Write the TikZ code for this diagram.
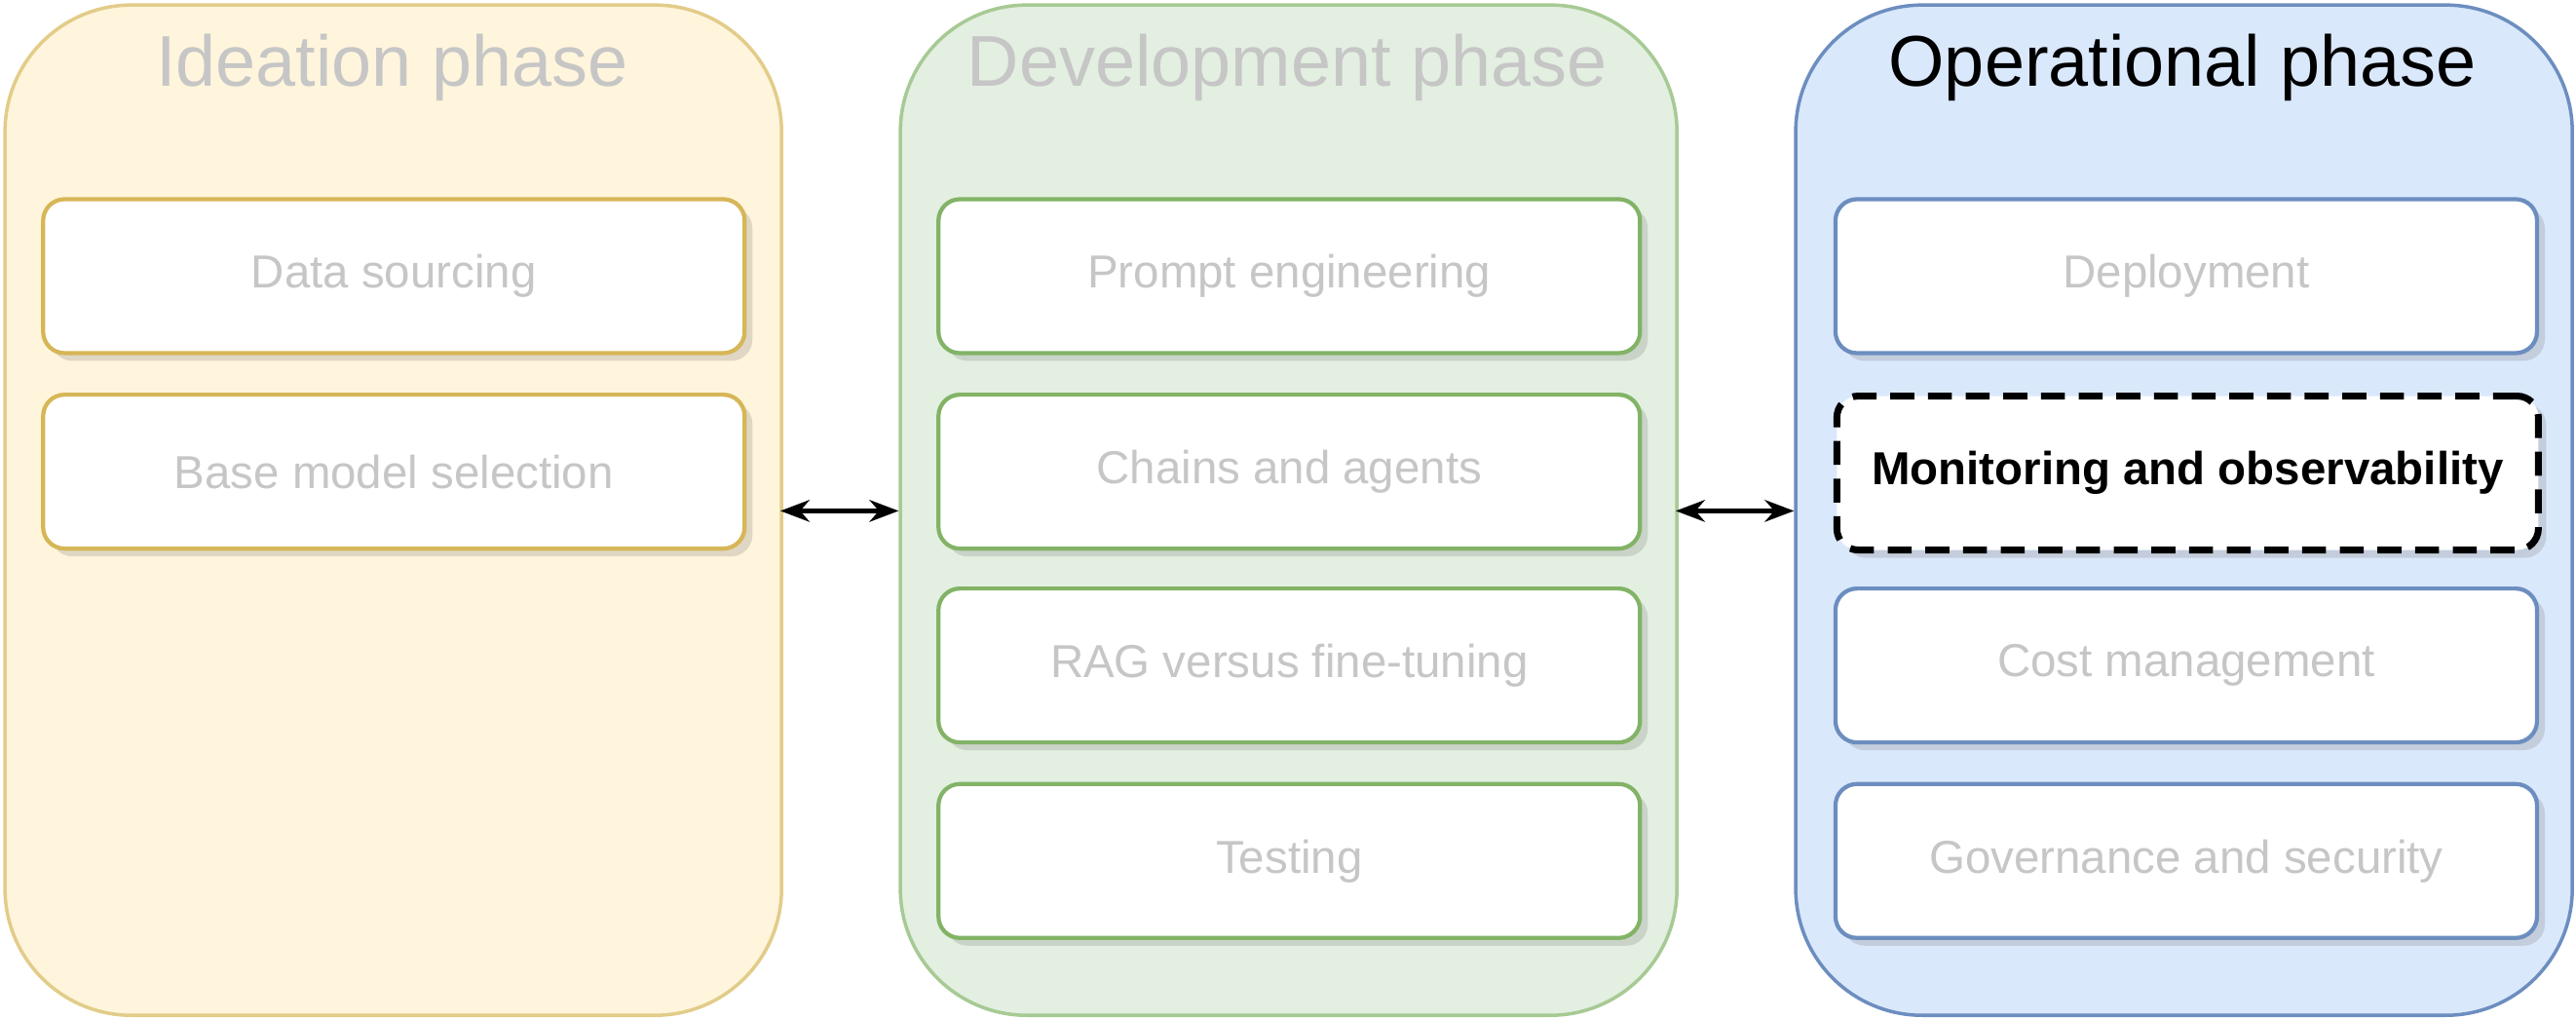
\documentclass[tikz,border=0pt]{standalone}
\usepackage{fontspec}
\setmainfont{Liberation Sans}
\usetikzlibrary{arrows.meta,shadows,positioning}
\definecolor{idfill}{HTML}{FFF5DC}
\definecolor{iddraw}{HTML}{D6B656}
\definecolor{devfill}{HTML}{E3EFE1}
\definecolor{devdraw}{HTML}{82B366}
\definecolor{opfill}{HTML}{DAE8FC}
\definecolor{opdraw}{HTML}{6C8EBF}
\definecolor{faded}{HTML}{C6C6C6}
\tikzset{
  phase/.style={draw, line width=1pt, rounded corners=1.3cm, minimum width=7.97cm, minimum height=10.37cm, anchor=north west},
  task/.style={draw, line width=1.2pt, fill=white, rounded corners=0.22cm, minimum width=7.2cm, minimum height=1.58cm, anchor=north west, text=faded, font=\fontsize{13.5}{16}\selectfont, drop shadow={opacity=0.25, shadow xshift=0.08cm, shadow yshift=-0.08cm}},
  ptitle/.style={font=\fontsize{21}{25}\selectfont, text=faded},
  link/.style={{Stealth[length=0.3cm]}-{Stealth[length=0.3cm]}, line width=1.2pt}
}
\begin{document}
\begin{tikzpicture}[x=0.016862cm, y=-0.016862cm]
\useasboundingbox (0,0) rectangle (1568,620);
% phases
\node[phase, draw=iddraw!70, fill=idfill] (ideation) at (2,2) {};
\node[phase, draw=devdraw!70, fill=devfill] (development) at (547,2) {};
\node[phase, draw=opdraw, fill=opfill] (operational) at (1092,2) {};
\node[ptitle] (ideationT) at (238.5,41) {Ideation phase};
\node[ptitle] (developmentT) at (783.5,41) {Development phase};
\node[ptitle, text=black] (operationalT) at (1328.5,41) {Operational phase};
% ideation tasks
\node[task, draw=iddraw] (sourcing) at (25,120) {Data sourcing};
\node[task, draw=iddraw] (basemodel) at (25,239) {Base model selection};
% development tasks
\node[task, draw=devdraw] (prompt) at (570,120) {Prompt engineering};
\node[task, draw=devdraw] (chains) at (570,239) {Chains and agents};
\node[task, draw=devdraw] (rag) at (570,357) {RAG versus fine-tuning};
\node[task, draw=devdraw] (testing) at (570,476) {Testing};
% operational tasks
\node[task, draw=opdraw] (deployment) at (1116,120) {Deployment};
\node[task, draw=black, dash pattern=on 7pt off 4pt, line width=2pt, text=black, font=\fontsize{13.5}{16}\selectfont\bfseries] (monitoring) at (1116,239) {Monitoring and observability};
\node[task, draw=opdraw] (cost) at (1116,357) {Cost management};
\node[task, draw=opdraw] (governance) at (1116,476) {Governance and security};
% links
\coordinate (a1) at (475,311); \coordinate (a2) at (547,311);
\coordinate (b1) at (1020,311); \coordinate (b2) at (1092,311);
\draw[link] (a1) -- (a2);
\draw[link] (b1) -- (b2);
\end{tikzpicture}
\end{document}
